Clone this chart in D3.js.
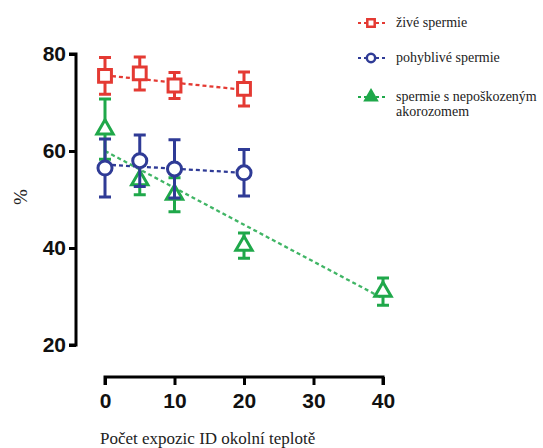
<!DOCTYPE html>
<html>
<head>
<meta charset="utf-8">
<script src="https://cdn.jsdelivr.net/npm/d3@7"></script>
<style>
  body { margin: 0; background: #fff; }
  svg { display: block; }
</style>
</head>
<body>
<script>
// exposures (x) and series values
var expozice = [0, 5, 10, 20];
var expoziceZelena = [0, 5, 10, 20, 40];

var zive = [75.5, 76, 73.5, 72.8];
var ziveErr = [3.8, 3.4, 2.7, 3.5];

var pohyblive = [56.5, 58, 56.3, 55.5];
var pohybliveErr = [6, 5.3, 6, 4.8];

var akrozom = [64.5, 54, 51, 40.5, 31];
var akrozomErr = [6.2, 3, 3.5, 2.6, 2.8];

// dashed fit lines, start/end values
var fitX = [[0, 20], [0, 20], [0, 40]];
var fitY = [[75.6, 72.6], [57.2, 55.5], [60, 29.6]];

var nazvy = ["živé spermie", "pohyblivé spermie", ["spermie s nepoškozeným", "akorozomem"]];
var barvy = ["#e43a33", "#2f3b96", "#1fa84a"];
var xTicks = [0, 10, 20, 30, 40];
var yTicks = [20, 40, 60, 80];

var W = 543, H = 448;
var svg = d3.select("body").append("svg")
    .attr("width", W)
    .attr("height", H);

var x = d3.scaleLinear().domain([0, 40]).range([105, 383]);
var y = d3.scaleLinear().domain([20, 80]).range([345, 54]);

// y axis
var yAxis = svg.append("g")
    .attr("transform", "translate(76,0)")
    .call(d3.axisLeft(y).tickValues(yTicks).tickSize(7).tickPadding(3).tickFormat(d3.format("d")));
yAxis.select(".domain").attr("stroke", "#000").attr("stroke-width", 3).attr("d", "M-7," + y(20) + "H0V" + y(80) + "H-7");
yAxis.selectAll(".tick line").attr("stroke", "#000").attr("stroke-width", 3);
yAxis.selectAll(".tick text")
    .style("font-family", "Liberation Sans, Arial, sans-serif")
    .style("font-weight", "bold")
    .style("font-size", "21px")
    .attr("fill", "#111");

// x axis
var xAxis = svg.append("g")
    .attr("transform", "translate(0,377)")
    .call(d3.axisBottom(x).tickValues(xTicks).tickSize(8).tickPadding(8).tickFormat(d3.format("d")));
xAxis.select(".domain").attr("stroke", "#000").attr("stroke-width", 3).attr("d", "M" + x(0) + ",8V0H" + x(40) + "V8");
xAxis.selectAll(".tick line").attr("stroke", "#000").attr("stroke-width", 3);
xAxis.selectAll(".tick text")
    .style("font-family", "Liberation Sans, Arial, sans-serif")
    .style("font-weight", "bold")
    .style("font-size", "21px")
    .attr("fill", "#111");

svg.append("text")
    .attr("x", 100).attr("y", 444)
    .style("font-family", "Liberation Serif, Times New Roman, serif")
    .style("font-size", "17px")
    .attr("fill", "#222")
    .text("Počet expozic ID okolní teplotě");

svg.append("text")
    .attr("transform", "translate(27,197) rotate(-90)")
    .attr("text-anchor", "middle")
    .style("font-family", "Liberation Serif, Times New Roman, serif")
    .style("font-size", "19px")
    .attr("fill", "#222")
    .text("%");

// fit lines
var line = d3.line().x(function(d) { return x(d[0]); }).y(function(d) { return y(d[1]); });
fitX.forEach(function(xs, i) {
    svg.append("path")
        .attr("d", line(d3.zip(xs, fitY[i])))
        .attr("fill", "none")
        .attr("stroke", barvy[i])
        .attr("stroke-width", 2.3)
        .attr("stroke-dasharray", "4,3")
        .attr("opacity", i == 2 ? 0.85 : 1);
});

var serie = [
    { xs: expoziceZelena, ys: akrozom, err: akrozomErr, c: barvy[2], sym: d3.symbolTriangle, size: 115 },
    { xs: expozice, ys: pohyblive, err: pohybliveErr, c: barvy[1], sym: d3.symbolCircle, size: 155 },
    { xs: expozice, ys: zive, err: ziveErr, c: barvy[0], sym: d3.symbolSquare, size: 165 }
];

serie.forEach(function(s) {
    var g = svg.append("g");
    var pts = d3.range(s.xs.length).map(function(i) { return { x: s.xs[i], y: s.ys[i], e: s.err[i] }; });
    g.selectAll(".bar").data(pts).enter().append("path")
        .attr("d", function(d) {
            var cx = x(d.x), t = y(d.y + d.e), b = y(d.y - d.e);
            return "M" + (cx - 6) + "," + t + "H" + (cx + 6) + "M" + cx + "," + t + "V" + b + "M" + (cx - 6) + "," + b + "H" + (cx + 6);
        })
        .attr("stroke", s.c)
        .attr("stroke-width", 3)
        .attr("fill", "none");
    g.selectAll(".pt").data(pts).enter().append("path")
        .attr("d", d3.symbol().type(s.sym).size(s.size))
        .attr("transform", function(d) { return "translate(" + x(d.x) + "," + y(d.y) + ")"; })
        .attr("fill", "#fff")
        .attr("stroke", s.c)
        .attr("stroke-width", 3);
});

// legend
var legY = [23, 58, 97];
var legSym = [d3.symbolSquare, d3.symbolCircle, d3.symbolTriangle];
nazvy.forEach(function(n, i) {
    var g = svg.append("g").attr("transform", "translate(371," + legY[i] + ")");
    g.append("line").attr("x1", -13).attr("x2", 14)
        .attr("stroke", barvy[i]).attr("stroke-width", 2).attr("stroke-dasharray", "3,3");
    g.append("path")
        .attr("d", d3.symbol().type(legSym[i]).size(55))
        .attr("fill", i == 2 ? barvy[i] : "#fff")
        .attr("stroke", barvy[i])
        .attr("stroke-width", 2.5);
    var t = g.append("text")
        .attr("x", 25).attr("y", 4)
        .style("font-family", "Liberation Serif, Times New Roman, serif")
        .style("font-size", "14px")
        .attr("fill", "#222");
    (Array.isArray(n) ? n : [n]).forEach(function(s, k) {
        t.append("tspan").attr("x", 25).attr("dy", k ? 15 : 0).text(s);
    });
});
</script>
</body>
</html>
